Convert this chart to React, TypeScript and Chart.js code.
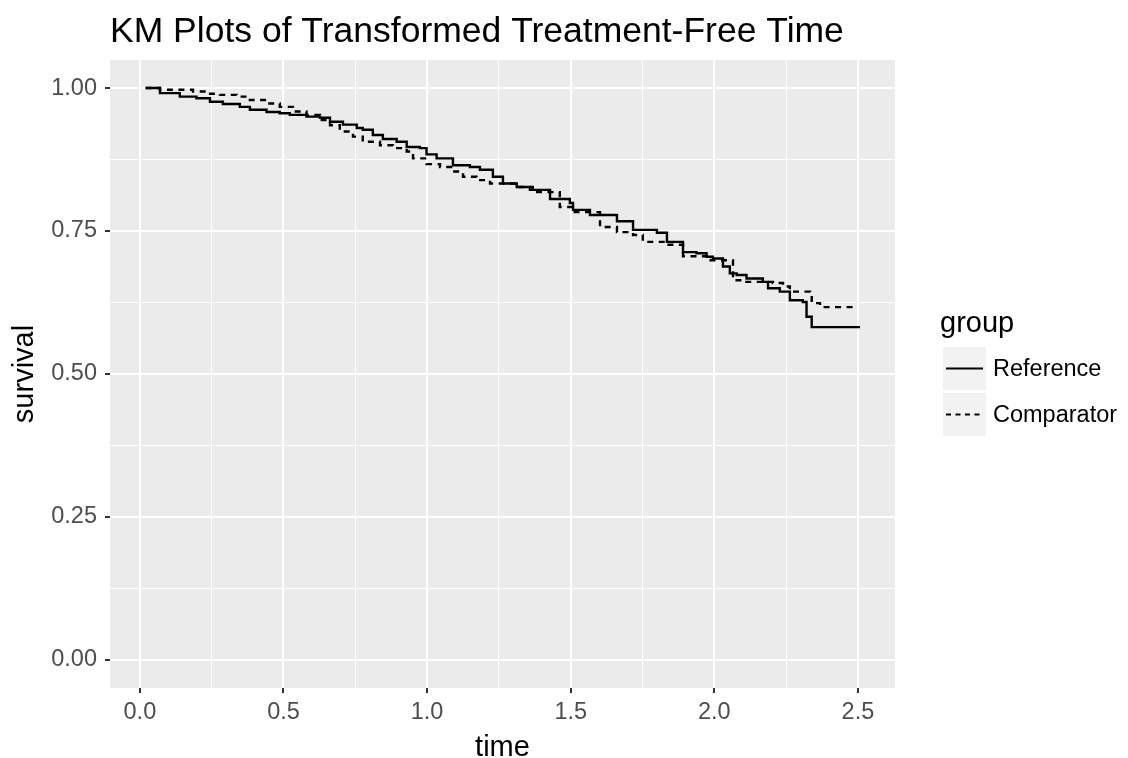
import React, { useEffect, useRef } from "react";
import { Chart, registerables } from "chart.js";
Chart.register(...registerables);

const chartTitle = "KM Plots of Transformed Treatment-Free Time";
const xTitle = "time";
const yTitle = "survival";
const legendTitle = "group";
const groupNames = ["Reference", "Comparator"];

const refTime = [0.02, 0.07, 0.139, 0.197, 0.244, 0.289, 0.348, 0.383, 0.441, 0.487, 0.522, 0.58, 0.627, 0.662, 0.707, 0.755, 0.776, 0.811, 0.846, 0.894, 0.929, 0.975, 0.998, 1.033, 1.09, 1.149, 1.184, 1.229, 1.264, 1.312, 1.358, 1.428, 1.497, 1.508, 1.567, 1.661, 1.717, 1.8, 1.835, 1.891, 1.938, 1.973, 1.995, 2.03, 2.054, 2.078, 2.112, 2.169, 2.187, 2.228, 2.263, 2.308, 2.321, 2.339, 2.507];
const refSurv = [1.0, 0.991, 0.985, 0.982, 0.976, 0.972, 0.967, 0.962, 0.958, 0.956, 0.953, 0.95, 0.948, 0.941, 0.936, 0.93, 0.927, 0.918, 0.911, 0.906, 0.897, 0.895, 0.884, 0.877, 0.865, 0.862, 0.857, 0.845, 0.833, 0.827, 0.822, 0.806, 0.799, 0.787, 0.778, 0.767, 0.752, 0.747, 0.731, 0.713, 0.711, 0.705, 0.702, 0.688, 0.676, 0.673, 0.667, 0.661, 0.65, 0.644, 0.629, 0.626, 0.6, 0.582, 0.582];

const compTime = [0.02, 0.07, 0.185, 0.232, 0.279, 0.337, 0.383, 0.441, 0.487, 0.533, 0.58, 0.627, 0.662, 0.696, 0.742, 0.776, 0.836, 0.881, 0.929, 0.951, 0.998, 1.045, 1.09, 1.125, 1.172, 1.219, 1.312, 1.368, 1.462, 1.508, 1.602, 1.661, 1.717, 1.751, 1.835, 1.891, 1.974, 2.065, 2.099, 2.204, 2.239, 2.263, 2.333, 2.339, 2.368, 2.5];
const compSurv = [1.0, 0.997, 0.994, 0.99, 0.988, 0.985, 0.979, 0.973, 0.967, 0.959, 0.953, 0.944, 0.935, 0.924, 0.915, 0.906, 0.9, 0.895, 0.889, 0.877, 0.867, 0.862, 0.854, 0.845, 0.839, 0.833, 0.827, 0.818, 0.792, 0.783, 0.757, 0.748, 0.743, 0.731, 0.726, 0.706, 0.699, 0.664, 0.661, 0.659, 0.653, 0.644, 0.638, 0.624, 0.617, 0.617];

const xMajor = [0, 0.5, 1, 1.5, 2, 2.5];
const xMinor = [0.25, 0.75, 1.25, 1.75, 2.25];
const yMajor = [0, 0.25, 0.5, 0.75, 1];
const yMinor = [0.125, 0.375, 0.625, 0.875];

const FONT = "'Liberation Sans', Arial, sans-serif";

function isIn(list: number[], v: number) {
  return list.some((m) => Math.abs(m - v) < 1e-6);
}

export default function App() {
  const ref = useRef<HTMLCanvasElement | null>(null);
  useEffect(() => {
    if (!ref.current) return;
    const textPlugin = {
      id: "ggText",
      beforeDraw(chart: any) {
        const { ctx, chartArea: a } = chart;
        ctx.save();
        ctx.fillStyle = "#ebebeb";
        ctx.fillRect(a.left, a.top, a.right - a.left, a.bottom - a.top);
        ctx.restore();
      },
      afterDraw(chart: any) {
        const { ctx, chartArea: a } = chart;
        ctx.save();
        ctx.fillStyle = "#000";
        ctx.textBaseline = "alphabetic";
        ctx.textAlign = "left";
        ctx.font = `35.5px ${FONT}`;
        ctx.fillText(chartTitle, 110, 42);
        ctx.font = `29px ${FONT}`;
        ctx.textAlign = "center";
        ctx.fillText(xTitle, (a.left + a.right) / 2, 756);
        ctx.save();
        ctx.translate(33, (a.top + a.bottom) / 2);
        ctx.rotate(-Math.PI / 2);
        ctx.fillText(yTitle, 0, 0);
        ctx.restore();
        ctx.textAlign = "left";
        ctx.font = `29px ${FONT}`;
        ctx.fillText(legendTitle, 940, 332);
        const boxes = [347, 393];
        const baselines = [376, 422];
        boxes.forEach((top, i) => {
          ctx.fillStyle = "#f2f2f2";
          ctx.fillRect(943, top, 43, 43);
          ctx.strokeStyle = "#000";
          ctx.lineWidth = 2.2;
          ctx.setLineDash(i === 0 ? [] : [5, 4.5]);
          ctx.beginPath();
          ctx.moveTo(946, top + 21.5);
          ctx.lineTo(983, top + 21.5);
          ctx.stroke();
          ctx.setLineDash([]);
          ctx.fillStyle = "#000";
          ctx.font = `23.5px ${FONT}`;
          ctx.fillText(groupNames[i], 993, baselines[i]);
        });
        ctx.restore();
      },
    };

    const chart = new Chart(ref.current, {
      type: "line",
      data: {
        datasets: [
          {
            label: groupNames[0],
            data: refTime.map((t, i) => ({ x: t, y: refSurv[i] })),
            borderColor: "#000",
            borderWidth: 2.4,
            pointRadius: 0,
            stepped: "before",
            fill: false,
          },
          {
            label: groupNames[1],
            data: compTime.map((t, i) => ({ x: t, y: compSurv[i] })),
            borderColor: "#000",
            borderWidth: 2.4,
            borderDash: [6, 5.5],
            pointRadius: 0,
            stepped: "before",
            fill: false,
          },
        ],
      },
      options: {
        animation: false,
        responsive: true,
        maintainAspectRatio: false,
        layout: { padding: { left: 0, top: 60, right: 233, bottom: 0 } },
        plugins: { legend: { display: false }, title: { display: false }, tooltip: { enabled: false } },
        scales: {
          x: {
            type: "linear",
            min: -0.104,
            max: 2.629,
            afterBuildTicks: (s: any) => {
              s.ticks = [...xMajor, ...xMinor].sort((a, b) => a - b).map((v) => ({ value: v }));
            },
            afterFit: (s: any) => {
              s.height = 70;
            },
            border: { display: false },
            grid: {
              color: "#ffffff",
              lineWidth: (c: any) => (isIn(xMajor, c.tick.value) ? 2 : 1),
              drawTicks: true,
              tickLength: 5,
              tickWidth: 2,
              tickColor: (c: any) => (isIn(xMajor, c.tick.value) ? "#333333" : "rgba(0,0,0,0)"),
            },
            ticks: {
              autoSkip: false,
              maxRotation: 0,
              padding: 5,
              color: "#4d4d4d",
              font: { family: FONT, size: 23.5 },
              callback: (v: any) => (isIn(xMajor, Number(v)) ? Number(v).toFixed(1) : ""),
            },
            title: { display: false },
          },
          y: {
            type: "linear",
            min: -0.049,
            max: 1.049,
            afterBuildTicks: (s: any) => {
              s.ticks = [...yMajor, ...yMinor].sort((a, b) => a - b).map((v) => ({ value: v }));
            },
            afterFit: (s: any) => {
              s.width = 110;
            },
            border: { display: false },
            grid: {
              color: "#ffffff",
              lineWidth: (c: any) => (isIn(yMajor, c.tick.value) ? 2 : 1),
              drawTicks: true,
              tickLength: 5,
              tickWidth: 2,
              tickColor: (c: any) => (isIn(yMajor, c.tick.value) ? "#333333" : "rgba(0,0,0,0)"),
            },
            ticks: {
              autoSkip: false,
              padding: 8,
              color: "#4d4d4d",
              font: { family: FONT, size: 23.5 },
              callback: (v: any) => (isIn(yMajor, Number(v)) ? Number(v).toFixed(2) : ""),
            },
            title: { display: false },
          },
        },
      },
      plugins: [textPlugin],
    } as any);
    return () => chart.destroy();
  }, []);

  return (
    <div style={{ position: "fixed", left: 0, top: 0, width: 1128, height: 758, background: "#fff" }}>
      <canvas ref={ref} />
    </div>
  );
}
